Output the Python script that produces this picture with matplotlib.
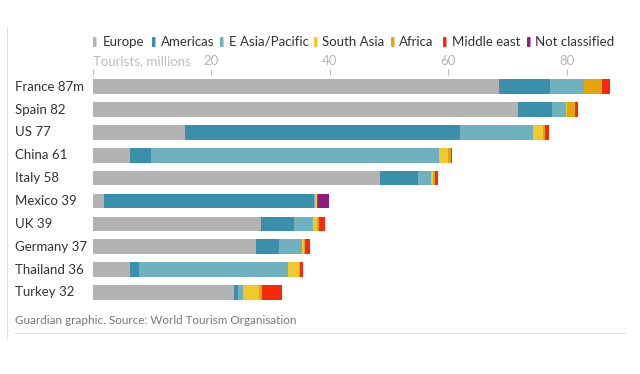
import numpy as np
import matplotlib
matplotlib.use("Agg")
from matplotlib import pyplot as plt
from matplotlib.lines import Line2D
from matplotlib.patches import FancyBboxPatch
from matplotlib.transforms import blended_transform_factory

plt.rcParams['font.family'] = ['Lato', 'DejaVu Sans']

countries = ["France 87m", "Spain 82", "US 77", "China 61", "Italy 58",
             "Mexico 39", "UK 39", "Germany 37", "Thailand 36", "Turkey 32"]
regions = ["Europe", "Americas", "E Asia/Pacific", "South Asia", "Africa",
           "Middle east", "Not classified"]
colors = ["#b3b3b3", "#3a8fab", "#70b1c0", "#f1c82e", "#e3a50d", "#f52a0a", "#8e1c7f"]

europe = [68.5, 71.7, 15.6, 6.3, 48.5, 1.9, 28.4, 27.6, 6.4, 23.9]
americas = [8.7, 5.8, 46.4, 3.5, 6.4, 35.5, 5.5, 3.9, 1.4, 0.6]
east_asia = [5.7, 2.3, 12.3, 48.7, 2.2, 0.2, 3.2, 3.8, 25.2, 0.8]
south_asia = [0.0, 0.3, 1.6, 1.5, 0.4, 0.2, 0.7, 0.4, 1.9, 2.7]
africa = [3.0, 1.3, 0.4, 0.4, 0.3, 0.1, 0.4, 0.2, 0.1, 0.6]
middle_east = [1.3, 0.5, 0.6, 0.3, 0.5, 0.2, 1.0, 0.7, 0.5, 3.4]
not_classified = [0.0, 0.0, 0.0, 0.0, 0.0, 1.7, 0.0, 0.0, 0.0, 0.0]

series = [europe, americas, east_asia, south_asia, africa, middle_east, not_classified]

W, H = 640, 374
fig = plt.figure(figsize=(W / 100, H / 100), dpi=100)

def fx(px):
    return px / W

def fy(py):
    return 1 - py / H

# axes placement in pixels
x0, x1 = 92.5, 632
top, bot = 75.3, 303.9
ax = fig.add_axes([fx(x0), fy(bot), fx(x1 - x0), (bot - top) / H])
ax.set_xlim(0, (x1 - x0) / 5.93)
ax.set_ylim(len(countries) - 0.5, -0.5)

y = np.arange(len(countries))
left = np.zeros(len(countries))
for vals, c in zip(series, colors):
    ax.barh(y, vals, left=left, height=0.64, color=c, linewidth=0)
    left += np.array(vals)

for s in ax.spines.values():
    s.set_visible(False)
ax.set_yticks([])
ax.xaxis.tick_top()
ax.set_xticks([0, 20, 40, 60, 80])
ax.set_xticklabels(["", "20", "40", "60", "80"])
ax.tick_params(axis="x", length=4, width=0.8, color="#bbbbbb", labelcolor="#b5b5b5",
               labelsize=9.5, pad=2)

trans = blended_transform_factory(fig.transFigure, ax.transData)
for i, name in enumerate(countries):
    ax.text(fx(15), i, name, transform=trans, ha="left", va="center",
            fontsize=9.5, color="#333333")

fig.text(fx(93), fy(61), "Tourists, millions", ha="left", va="center",
         fontsize=9.5, color="#bdbdbd")

# legend
marker_x = [93, 152, 220, 314, 391, 443, 527]
text_x = [103, 161, 229, 322, 399, 452, 535]
for name, c, mx, tx in zip(regions, colors, marker_x, text_x):
    fig.patches.append(FancyBboxPatch((fx(mx), fy(47)), fx(3.5), 10 / H,
                                      boxstyle="round,pad=0,rounding_size=0.002",
                                      transform=fig.transFigure, color=c, lw=0))
    fig.text(fx(tx), fy(42), name, ha="left", va="center", fontsize=9.5, color="#333333")

fig.text(fx(15), fy(320), "Guardian graphic. Source: World Tourism Organisation",
         ha="left", va="center", fontsize=8.4, color="#777777")

fig.lines.append(Line2D([fx(7), fx(7)], [fy(27), fy(338)], transform=fig.transFigure,
                        color="#dddddd", lw=0.8))
fig.lines.append(Line2D([fx(15), fx(625)], [fy(333), fy(333)], transform=fig.transFigure,
                        color="#dddddd", lw=0.8))

fig.savefig("out.png", dpi=100)
